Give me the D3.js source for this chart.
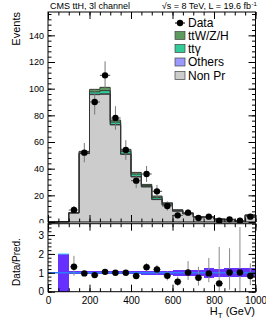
<!DOCTYPE html>
<html><head><meta charset="utf-8">
<script src="https://cdn.jsdelivr.net/npm/d3@7"></script>
<style>body{margin:0;background:#fff} svg{display:block} text{font-family:"Liberation Sans",Arial,sans-serif;fill:#000}</style>
</head><body><svg id="c" width="266" height="322"></svg>
<script>
// ---- data ----
const binLow = [0,50,100,150,200,250,300,350,400,450,500,550,600,650,700,750,800,850,900,950];
const binWidth = 50;
const nonPrompt = [0,0.2,6.8,51.3,95.5,95.8,72.8,50.7,33.8,26.3,16.8,12.6,8.1,6.1,3.5,3.6,2.0,1.7,0.8,4.8];
const others    = [0,0,0,0.2,0.3,0.3,0.3,0.3,0.3,0.2,0.2,0.2,0.1,0.1,0.1,0.1,0.05,0.05,0.05,0.1];
const ttGamma   = [0,0,0.1,0.8,1.8,2.4,1.8,2.0,1.8,0.8,1.3,0.9,0.5,0.3,0.2,0.2,0.1,0.1,0.05,0.2];
const ttVH      = [0,0,0.1,0.7,1.9,2.5,1.6,1.5,1.3,0.9,1.2,0.8,0.6,0.4,0.2,0.2,0.15,0.15,0.1,0.3];
const dataCounts = [0,0,9,52,90,110,78,54,31,36,23,12,5,7,3,4,1,2,1,4];
const ratioVals = [null,null,1.32,0.97,0.88,1.05,1.0,1.0,0.83,1.3,1.18,0.84,0.53,1.02,0.74,0.97,0.44,1.02,1.02,0.83];
const ratioLo   = [null,null,0.85,0.83,0.79,0.95,0.89,0.87,0.68,1.08,0.94,0.60,0.30,0.62,0.32,0.50,0.0,0.10,0.0,0.35];
const ratioHi   = [null,null,1.90,1.11,0.97,1.15,1.11,1.13,0.98,1.52,1.42,1.08,0.80,1.62,1.32,1.79,2.37,2.30,3.42,1.50];
const bandHalf  = [null,1.0,0.08,0.08,0.08,0.08,0.08,0.08,0.08,0.1,0.12,0.12,0.15,0.15,0.15,0.27,0.2,0.24,0.24,0.24];
const yTicksTop = [0,20,40,60,80,100,120,140];
const yTicksRatio = [0,1,2,3];
const xTicks = [0,200,400,600,800,1000];
const legendLabels = ["Data","ttW/Z/H","tt\u03B3","Others","Non Pr"];
const layerKeys = ["nonPrompt","others","ttGamma","ttVH"];
const layerColors = {nonPrompt:"#cccccc", others:"#9999ff", ttGamma:"#33cc99", ttVH:"#5e9a5e"};

// ---- scales ----
const svg = d3.select("#c");
const x = d3.scaleLinear().domain([0,1000]).range([48,255.5]);
const yT = d3.scaleLinear().domain([0,157.5]).range([222,12]);
const yR = d3.scaleLinear().domain([0,3.6]).range([291.7,223.7]);

const rows = binLow.map((b,i)=>({low:b, nonPrompt:nonPrompt[i], others:others[i], ttGamma:ttGamma[i], ttVH:ttVH[i]}));
const stacked = d3.stack().keys(layerKeys)(rows);

// ---- top panel ----
const topG = svg.append("g");
stacked.forEach(layer=>{
  topG.append("g").selectAll("rect").data(layer).join("rect")
    .attr("x", d=>x(d.data.low)).attr("width", d=>x(d.data.low+binWidth)-x(d.data.low))
    .attr("y", d=>yT(d[1])).attr("height", d=>Math.max(0,yT(d[0])-yT(d[1])))
    .attr("fill", layerColors[layer.key]).attr("shape-rendering","crispEdges");
});
const step = d3.line().x(d=>x(d[0])).y(d=>yT(d[1])).curve(d3.curveStepAfter);
stacked.forEach(layer=>{
  const pts = layer.map(d=>[d.data.low, d[1]]);
  pts.push([1000, layer[layer.length-1][1]]);
  pts.unshift([0,0]);
  topG.append("path").attr("d", step(pts)).attr("fill","none").attr("stroke","#333").attr("stroke-width",0.9);
});

// data points
const dataG = topG.append("g");
binLow.forEach((b,i)=>{
  const n = dataCounts[i];
  if(!n) return;
  const cx = x(b+binWidth/2), e = Math.sqrt(n);
  dataG.append("line").attr("x1",cx).attr("x2",cx).attr("y1",yT(n-e)).attr("y2",yT(n+e)).attr("stroke","#777").attr("stroke-width",1);
  dataG.append("line").attr("x1",x(b)).attr("x2",x(b+binWidth)).attr("y1",yT(n)).attr("y2",yT(n)).attr("stroke","#555").attr("stroke-width",1);
  dataG.append("circle").attr("cx",cx).attr("cy",yT(n)).attr("r",3.2).attr("fill","#000");
});

// axes
function frameAxes(g, yScale, yMajor, yMinor, yFmt, yFont){
  const [y0,y1] = yScale.range();
  g.append("g").attr("transform",`translate(${x.range()[0]},0)`)
    .call(d3.axisLeft(yScale).tickValues(yMajor).tickSize(-7).tickPadding(4).tickFormat(yFmt))
    .call(s=>{s.select(".domain").remove(); s.selectAll("text").attr("font-size",yFont).attr("font-family","Liberation Sans, Arial").attr("fill","#000");});
  g.append("g").attr("transform",`translate(${x.range()[0]},0)`)
    .call(d3.axisLeft(yScale).tickValues(yMinor).tickSize(-3.5).tickFormat(""))
    .call(s=>s.select(".domain").remove());
  g.append("g").attr("transform",`translate(${x.range()[1]},0)`)
    .call(d3.axisRight(yScale).tickValues(yMajor).tickSize(-7).tickFormat(""))
    .call(s=>s.select(".domain").remove());
  g.append("g").attr("transform",`translate(${x.range()[1]},0)`)
    .call(d3.axisRight(yScale).tickValues(yMinor).tickSize(-3.5).tickFormat(""))
    .call(s=>s.select(".domain").remove());
  const xMinor = binLow.concat([1000]);
  [[y0, d3.axisBottom],[y1, d3.axisTop]].forEach(([yy, ax])=>{
    g.append("g").attr("transform",`translate(0,${yy})`)
      .call(ax(x).tickValues(xTicks).tickSize(-7).tickFormat(""))
      .call(s=>s.select(".domain").remove());
    g.append("g").attr("transform",`translate(0,${yy})`)
      .call(ax(x).tickValues(xMinor).tickSize(-3.5).tickFormat(""))
      .call(s=>s.select(".domain").remove());
  });
  g.append("rect").attr("x",x.range()[0]).attr("y",y1).attr("width",x.range()[1]-x.range()[0]).attr("height",y0-y1)
    .attr("fill","none").attr("stroke","#000").attr("stroke-width",1);
}
const topMinor = d3.range(0,157,4);
frameAxes(topG, yT, yTicksTop, topMinor, d3.format("d"), 9);

// titles top
svg.append("text").attr("x",50).attr("y",9).attr("font-size",9).text("CMS ttH, 3l channel");
const lumi = svg.append("text").attr("x",251).attr("y",9).attr("font-size",9).attr("text-anchor","end");
lumi.append("tspan").text("\u221As = 8 TeV, L = 19.6 fb");
svg.append("text").attr("x",251.5).attr("y",6).attr("font-size",6).text("-1");
svg.append("text").attr("transform","translate(19.5,12) rotate(-90)").attr("text-anchor","end").attr("font-size",11).text("Events");

// legend
const leg = svg.append("g");
const legY = [23,35.5,48.5,62,75.5];
legendLabels.forEach((lab,i)=>{
  const yy = legY[i];
  if(i===0){
    leg.append("line").attr("x1",175).attr("x2",185).attr("y1",yy).attr("y2",yy).attr("stroke","#000");
    leg.append("circle").attr("cx",180).attr("cy",yy).attr("r",3.2).attr("fill","#000");
  } else {
    const key = ["ttVH","ttGamma","others","nonPrompt"][i-1];
    leg.append("rect").attr("x",175).attr("y",yy-4).attr("width",10).attr("height",8)
      .attr("fill",layerColors[key]).attr("stroke","#444").attr("stroke-width",0.7);
  }
  leg.append("text").attr("x",188).attr("y",yy+4.3).attr("font-size",12).text(lab);
});

// ---- ratio panel ----
const bot = svg.append("g");
bot.append("rect").attr("x",0).attr("y",223.2).attr("width",266).attr("height",100).attr("fill","#fff");
binLow.forEach((b,i)=>{
  const h = bandHalf[i];
  if(h==null) return;
  bot.append("rect").attr("x",x(b)).attr("width",x(b+binWidth)-x(b))
    .attr("y",yR(1+h)).attr("height",yR(Math.max(0,1-h))-yR(1+h))
    .attr("fill","#6630ff").attr("shape-rendering","crispEdges");
});
bot.append("line").attr("x1",x(100)).attr("x2",x(50)).attr("y1",yR(2)).attr("y2",yR(2)).attr("stroke","#44ddff").attr("stroke-width",1);
bot.append("line").attr("x1",x(0)).attr("x2",x(1000)).attr("y1",yR(1)).attr("y2",yR(1)).attr("stroke","#2f7bff").attr("stroke-width",1.5);
binLow.forEach((b,i)=>{
  const r = ratioVals[i];
  if(r==null) return;
  const cx = x(b+binWidth/2);
  bot.append("line").attr("x1",cx).attr("x2",cx).attr("y1",yR(ratioLo[i])).attr("y2",yR(ratioHi[i])).attr("stroke","#888");
  bot.append("line").attr("x1",x(b)+1.5).attr("x2",x(b+binWidth)-1.5).attr("y1",yR(r)).attr("y2",yR(r)).attr("stroke","#555");
  bot.append("circle").attr("cx",cx).attr("cy",yR(r)).attr("r",3.2).attr("fill","#000");
});
frameAxes(bot, yR, yTicksRatio, d3.range(0,3.61,0.2), d3.format("d"), 10);
bot.append("g").attr("transform","translate(0,291.7)")
  .call(d3.axisBottom(x).tickValues(xTicks).tickSize(0).tickPadding(5).tickFormat(d3.format("d")))
  .call(s=>{s.select(".domain").remove(); s.selectAll("text").attr("font-size",10).attr("font-family","Liberation Sans, Arial").attr("fill","#000");});
svg.append("text").attr("transform","translate(19.5,262) rotate(-90)").attr("text-anchor","middle").attr("font-size",10).text("Data/Pred.");
const ht = svg.append("text").attr("x",255).attr("y",315).attr("text-anchor","end").attr("font-size",11);
ht.append("tspan").text("H");
ht.append("tspan").attr("font-size",8).attr("dy",2.5).text("T");
ht.append("tspan").attr("dy",-2.5).text(" (GeV)");
</script></body></html>
